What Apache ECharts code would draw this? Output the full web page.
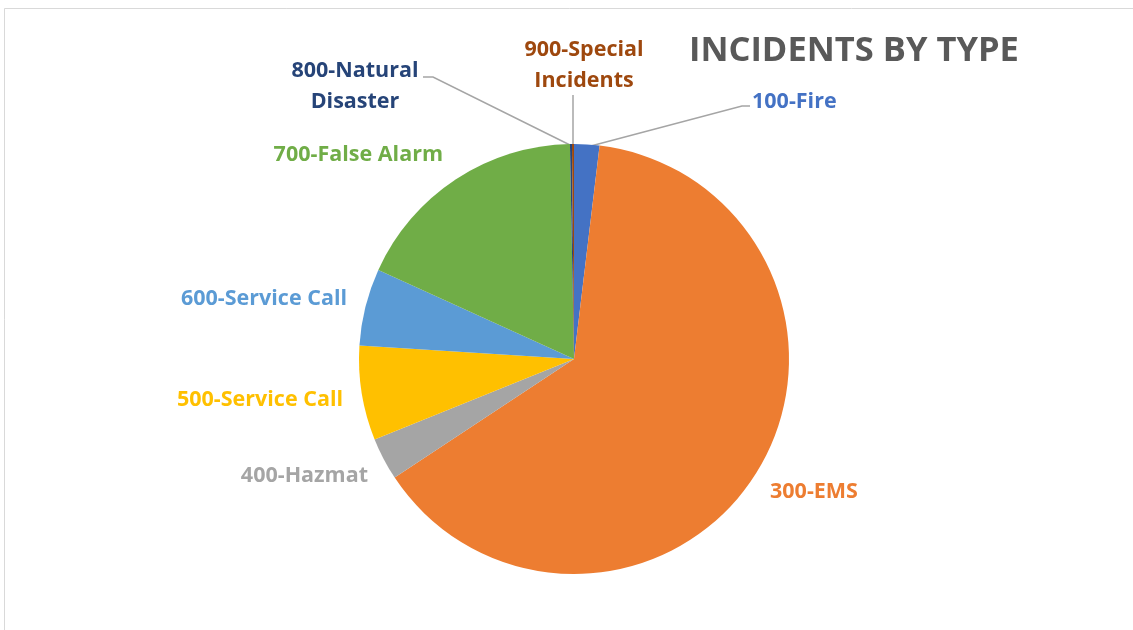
<!DOCTYPE html>
<html>
<head>
<meta charset="utf-8">
<script src="https://cdn.jsdelivr.net/npm/echarts@6/dist/echarts.min.js"></script>
<style>
html,body{margin:0;padding:0;background:#fff;}
#chart{width:1133px;height:630px;}
</style>
</head>
<body>
<div id="chart"></div>
<script>
// ---- data ----
const categories = ['100-Fire','300-EMS','400-Hazmat','500-Service Call','600-Service Call','700-False Alarm','800-Natural\nDisaster','900-Special\nIncidents'];
const values = [1.9, 63.8, 3.2, 7.1, 5.8, 17.9, 0.15, 0.15];
const colors = ['#4472C4','#ED7D31','#A5A5A5','#FFC000','#5B9BD5','#70AD47','#264478','#9E480E'];
const titleText = 'INCIDENTS BY TYPE';

// ---- label placement (style) ----
const labelPos = [
  {x:752, y:102, align:'left', line:[[587,147],[742,106],[750,106]]},
  {x:770, y:492, align:'left'},
  {x:368, y:476, align:'right'},
  {x:343, y:400, align:'right'},
  {x:347, y:299, align:'right'},
  {x:443, y:155, align:'right'},
  {x:355, y:86, align:'center', line:[[572,146],[433,77],[423,77]]},
  {x:584, y:65, align:'center', line:[[573,146],[573,95]]}
];

const chart = echarts.init(document.getElementById('chart'));
const data = categories.map((c,i)=>({
  name:c, value:values[i],
  itemStyle:{color:colors[i]},
  label:{color: i===2 ? '#A5A5A5' : colors[i]},
  labelLine:{show: !!labelPos[i].line}
}));

chart.setOption({
  animation:false,
  backgroundColor:'#fff',
  graphic:[{type:'rect',shape:{x:4.5,y:8.5,width:1300,height:800},style:{fill:'none',stroke:'#d9d9d9',lineWidth:1},silent:true}],
  title:{text:titleText,left:684,top:29,textStyle:{fontFamily:'Open Sans',fontWeight:'bold',fontSize:34.5,color:'#595959'}},
  series:[{
    type:'pie',
    center:[574,359],
    radius:215,
    startAngle:90,
    clockwise:true,
    avoidLabelOverlap:false,
    itemStyle:{borderWidth:0},
    label:{show:true,position:'outside',fontFamily:'Open Sans',fontWeight:'bold',fontSize:21.5,lineHeight:31,formatter:'{b}'},
    labelLine:{lineStyle:{color:'#A5A5A5',width:1.5}},
    labelLayout:function(p){
      const s = labelPos[p.dataIndex];
      const o = {x:s.x,y:s.y,align:s.align,verticalAlign:'middle'};
      if (s.line) o.labelLinePoints = s.line;
      return o;
    },
    data:data
  }]
});
</script>
</body>
</html>
